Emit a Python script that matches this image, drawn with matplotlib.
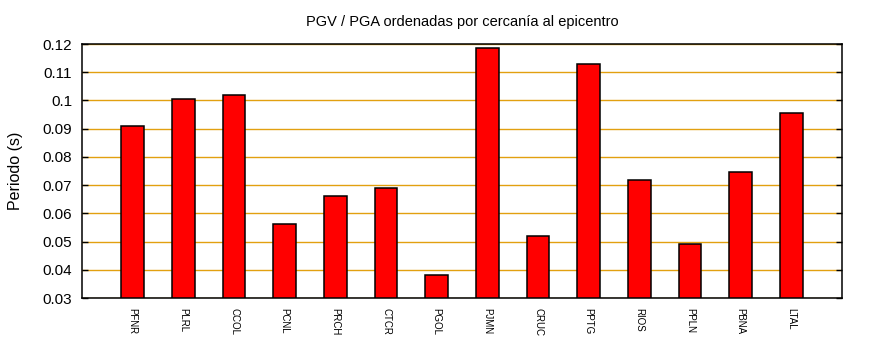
import matplotlib
matplotlib.use("Agg")
import matplotlib.pyplot as plt
import numpy as np

stations = ["PFNR", "PLRL", "CCOL", "PCNL", "PRCH", "CTCR", "PGOL",
            "PJMN", "CRUC", "PPTG", "RIOS", "PPLN", "PBNA", "LTAL"]
periods = [0.0911, 0.1004, 0.1019, 0.0561, 0.0663, 0.0688, 0.0382,
           0.1186, 0.0521, 0.1129, 0.0718, 0.0493, 0.0746, 0.0957]
yticks = [0.03, 0.04, 0.05, 0.06, 0.07, 0.08, 0.09, 0.10, 0.11, 0.12]
ytick_labels = ["0.03", "0.04", "0.05", "0.06", "0.07", "0.08", "0.09", "0.1", "0.11", "0.12"]

plt.rcParams['font.family'] = ['Liberation Sans', 'DejaVu Sans']

fig = plt.figure(figsize=(8.7, 3.5), dpi=100)
ax = fig.add_axes([82/870, 52/350, 760/870, 254/350])

x = np.arange(1, len(stations) + 1)
ax.bar(x, np.array(periods) - 0.03, bottom=0.03, width=0.45,
       color='#ff0000', edgecolor='black', linewidth=1.1, zorder=3)

ax.set_xlim(0, len(stations) + 1)
ax.set_ylim(0.03, 0.12)
ax.set_yticks(yticks)
ax.set_yticklabels(ytick_labels, fontsize=11)
ax.set_xticks(x)
ax.set_xticklabels(stations, rotation=270, fontsize=7, va='top', ha='center')
ax.tick_params(axis='x', length=0, pad=7)
ax.tick_params(axis='y', direction='in', length=4, width=1, right=True, pad=7)

ax.grid(axis='y', color='#e2a010', linewidth=1.0, zorder=0)
ax.set_axisbelow(True)
for s in ax.spines.values():
    s.set_linewidth(1.1)

ax.set_ylabel("Periodo (s)", fontsize=11.5, labelpad=14)
ax.set_title("PGV / PGA ordenadas por cercanía al epicentro", fontsize=10.5, pad=13)

fig.savefig("out.png", dpi=100)
